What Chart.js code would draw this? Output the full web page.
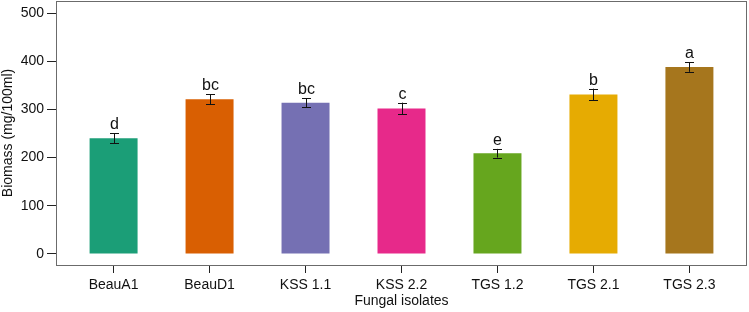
<!DOCTYPE html>
<html>
<head>
<meta charset="utf-8">
<script src="https://cdn.jsdelivr.net/npm/chart.js@4"></script>
<style>
  html, body { margin: 0; padding: 0; background: #ffffff; }
  #c { display: block; }
</style>
</head>
<body>
<canvas id="c" width="749" height="312"></canvas>
<script>
const categories = ['BeauA1', 'BeauD1', 'KSS 1.1', 'KSS 2.2', 'TGS 1.2', 'TGS 2.1', 'TGS 2.3'];
const biomass = [240, 321, 314, 302, 209, 331, 388];
const errors = [10, 10, 9, 12, 9, 12, 10];
const letters = ['d', 'bc', 'bc', 'c', 'e', 'b', 'a'];
const yTicks = [0, 100, 200, 300, 400, 500];
const barColors = ['#1B9E77', '#D95F02', '#7570B3', '#E7298A', '#66A61E', '#E6AB02', '#A6761D'];

const FONT = "'Liberation Sans', Arial, Helvetica, sans-serif";

const framePlugin = {
  id: 'frame',
  afterDraw(chart) {
    const { ctx, chartArea: a } = chart;
    ctx.save();
    ctx.strokeStyle = '#6b6b6b';
    ctx.lineWidth = 1;
    ctx.strokeRect(a.left + 0.5, a.top + 0.5, a.right - a.left - 1, a.bottom - a.top);
    ctx.restore();
  }
};

const errorPlugin = {
  id: 'errorLetters',
  afterDatasetsDraw(chart) {
    const { ctx } = chart;
    const xs = chart.scales.x, ys = chart.scales.y;
    ctx.save();
    ctx.strokeStyle = '#111111';
    ctx.lineWidth = 1;
    ctx.fillStyle = '#111111';
    ctx.font = '16px ' + FONT;
    ctx.textAlign = 'center';
    ctx.textBaseline = 'alphabetic';
    biomass.forEach((v, i) => {
      const x = Math.round(xs.getPixelForValue(i + 1)) + 0.5;
      const yTop = ys.getPixelForValue(v + errors[i]);
      const yBot = ys.getPixelForValue(v - errors[i]);
      const cap = 4.5;
      ctx.beginPath();
      ctx.moveTo(x, yTop); ctx.lineTo(x, yBot);
      ctx.moveTo(x - cap, Math.round(yTop) + 0.5); ctx.lineTo(x + cap, Math.round(yTop) + 0.5);
      ctx.moveTo(x - cap, Math.round(yBot) + 0.5); ctx.lineTo(x + cap, Math.round(yBot) + 0.5);
      ctx.stroke();
      ctx.fillText(letters[i], x, yTop - 4);
    });
    ctx.restore();
  }
};

new Chart(document.getElementById('c'), {
  type: 'bar',
  data: {
    datasets: [{
      data: biomass.map((v, i) => ({ x: i + 1, y: v })),
      backgroundColor: barColors,
      borderWidth: 0,
      categoryPercentage: 1,
      barPercentage: 0.5
    }]
  },
  options: {
    responsive: false,
    animation: false,
    devicePixelRatio: 1,
    layout: { padding: { top: 1, right: 2, left: 0, bottom: 0 } },
    plugins: { legend: { display: false }, tooltip: { enabled: false } },
    scales: {
      x: {
        type: 'linear',
        offset: false,
        min: 0.4,
        max: 7.6,
        afterBuildTicks: s => { s.ticks = categories.map((_, i) => ({ value: i + 1 })); },
        afterFit: s => { s.height = 47; s.paddingLeft = 0; s.paddingRight = 0; },
        ticks: {
          autoSkip: false,
          maxRotation: 0,
          padding: 4,
          color: '#111111',
          font: { family: FONT, size: 14 },
          callback: v => categories[v - 1]
        },
        grid: { offset: false, drawOnChartArea: false, drawTicks: true, tickLength: 8, color: '#222222', lineWidth: 1 },
        border: { display: false },
        title: { display: true, text: 'Fungal isolates', color: '#111111', font: { family: FONT, size: 14 }, padding: { top: 0, bottom: 2 } }
      },
      y: {
        type: 'linear',
        min: -23,
        max: 525,
        afterBuildTicks: s => { s.ticks = yTicks.map(v => ({ value: v })); },
        afterFit: s => { s.width = 56; s.paddingTop = 0; s.paddingBottom = 0; },
        ticks: {
          padding: 3,
          color: '#111111',
          font: { family: FONT, size: 14 }
        },
        grid: { drawOnChartArea: false, drawTicks: true, tickLength: 9, color: '#222222', lineWidth: 1 },
        border: { display: false },
        title: { display: true, text: 'Biomass (mg/100ml)', color: '#111111', font: { family: FONT, size: 14 }, padding: { top: 0, bottom: 0 } }
      }
    }
  },
  plugins: [framePlugin, errorPlugin]
});
</script>
</body>
</html>
